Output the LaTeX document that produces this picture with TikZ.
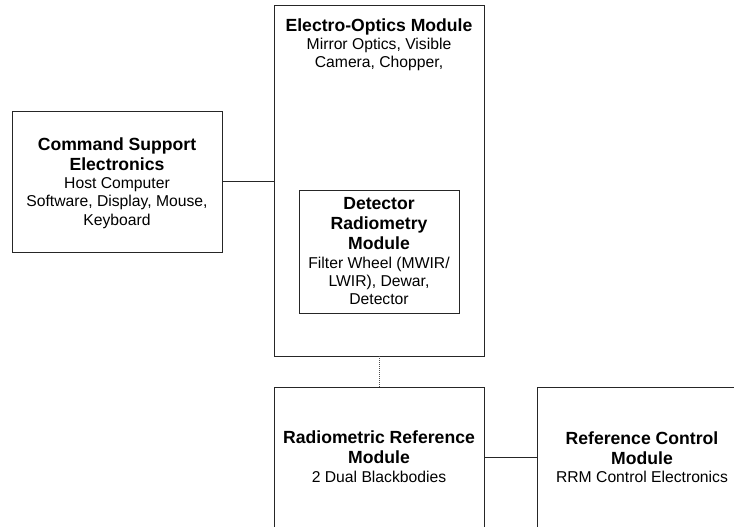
\documentclass[tikz,border=0pt]{standalone}
\usepackage{fontspec}
\setmainfont{Liberation Sans}
\lineskiplimit=-50pt
\begin{document}
\begin{tikzpicture}[x=1pt,y=-1pt,
  box/.style={draw=black!85, line width=0.9pt, rectangle, inner sep=0pt},
  ttl/.style={font=\fontsize{17.6}{20}\selectfont\bfseries, align=center, inner sep=0pt, anchor=north},
  bdy/.style={font=\fontsize{15.7}{18.4}\selectfont, align=center, inner sep=0pt, anchor=north},
  conn/.style={draw=black!85, line width=0.9pt},
  dotconn/.style={draw=black!70, line width=0.7pt, dash pattern=on 1pt off 1pt}]
\useasboundingbox (0,0) rectangle (734,527);
\fill[white] (0,0) rectangle (734,527);
\clip (0,0) rectangle (734,527);
% boxes
\node[box, minimum width=210, minimum height=141] (cse) at (117,181.5) {};
\node[box, minimum width=210, minimum height=351] (eom) at (379,180.5) {};
\node[box, minimum width=160, minimum height=123] (drm) at (379,251.5) {};
\node[box, minimum width=210, minimum height=141] (rrm) at (379,457.5) {};
\node[box, minimum width=210, minimum height=141] (rcm) at (642,457.5) {};
% texts
\node[ttl] (cseT) at (117,137.1) {Command Support\\Electronics};
\node[bdy] (cseB) at (117,177.1) {Host Computer\\Software, Display, Mouse,\\Keyboard};
\node[ttl] (eomT) at (379,18.1) {Electro-Optics Module};
\node[bdy] (eomB) at (379,38.0) {Mirror Optics, Visible\\Camera, Chopper,};
\node[ttl] (drmT) at (379,196.8) {Detector\\Radiometry\\Module};
\node[bdy] (drmB) at (379,256.5) {Filter Wheel (MWIR/\\LWIR), Dewar,\\Detector};
\node[ttl] (rrmT) at (379,430.7) {Radiometric Reference\\Module};
\node[bdy] (rrmB) at (379,470.5) {2 Dual Blackbodies};
\node[ttl] (rcmT) at (642,431.6) {Reference Control\\Module};
\node[bdy] (rcmB) at (642,471.4) {RRM Control Electronics};
% connectors
\draw[conn] (cse.east) -- (cse.east -| eom.west);
\draw[dotconn] (eom.south) -- (rrm.north);
\draw[conn] (rrm.east) -- (rcm.west);
\end{tikzpicture}
\end{document}
